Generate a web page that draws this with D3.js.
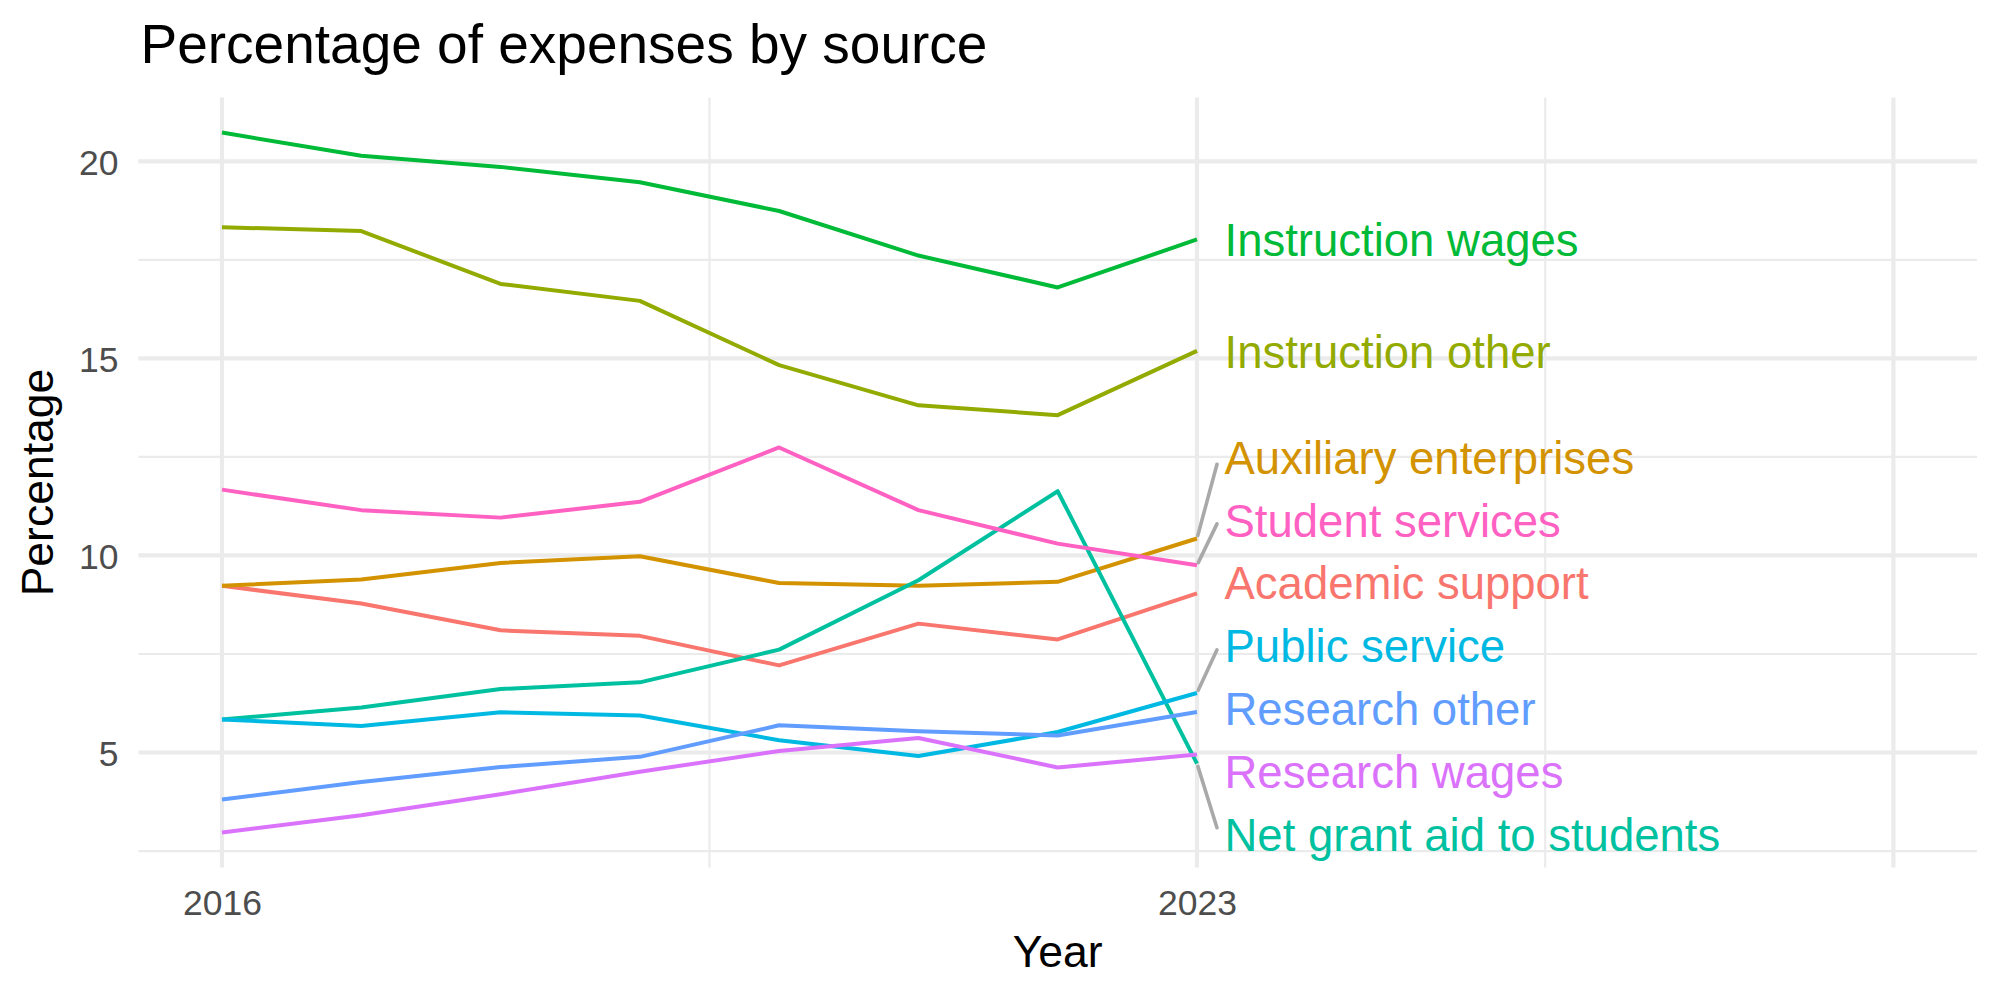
<!DOCTYPE html>
<html><head><meta charset="utf-8">
<script src="https://cdn.jsdelivr.net/npm/d3@7"></script>
<style>
body{margin:0;background:#fff;}
svg{display:block;font-family:"Liberation Sans",Arial,Helvetica,sans-serif;}
</style>
</head><body>
<svg id="chart" width="2000" height="1000"></svg>
<script>
// ---------------- data ----------------
const years = [2016, 2017, 2018, 2019, 2020, 2021, 2022, 2023];
const seriesNames = ["Academic support", "Auxiliary enterprises", "Instruction other", "Instruction wages",
  "Net grant aid to students", "Public service", "Research other", "Research wages", "Student services"];
const academicSupport   = [9.23, 8.78, 8.10, 7.96, 7.21, 8.27, 7.87, 9.04];
const auxiliaryEnterp   = [9.23, 9.39, 9.81, 9.98, 9.30, 9.23, 9.33, 10.43];
const instructionOther  = [18.33, 18.23, 16.89, 16.46, 14.83, 13.81, 13.56, 15.19];
const instructionWages  = [20.73, 20.14, 19.86, 19.47, 18.74, 17.61, 16.80, 18.02];
const netGrantAid       = [5.84, 6.14, 6.61, 6.78, 7.61, 9.37, 11.63, 4.72];
const publicService     = [5.84, 5.67, 6.02, 5.94, 5.31, 4.91, 5.52, 6.51];
const researchOther     = [3.81, 4.25, 4.63, 4.89, 5.69, 5.54, 5.43, 6.03];
const researchWages     = [2.97, 3.41, 3.94, 4.51, 5.04, 5.37, 4.62, 4.95];
const studentServices   = [11.67, 11.15, 10.96, 11.36, 12.74, 11.15, 10.30, 9.75];
const seriesValues = [academicSupport, auxiliaryEnterp, instructionOther, instructionWages,
  netGrantAid, publicService, researchOther, researchWages, studentServices];
const seriesColors = ["#F8766D", "#D39200", "#93AA00", "#00BA38", "#00C19F", "#00B9E3", "#619CFF", "#DB72FB", "#FF61C3"];

const xLimits = [2016, 2028];
const xBreaks = [2016, 2023, 2028];
const xTickLabels = ["2016", "2023", ""];
const xMinorBreaks = [2019.5, 2025.5];
const yBreaks = [5, 10, 15, 20];
const yTickLabels = ["5", "10", "15", "20"];
const yMinorBreaks = [2.5, 7.5, 12.5, 17.5];

const titleText = "Percentage of expenses by source";
const xTitle = "Year";
const yTitle = "Percentage";

// ---------------- layout ----------------
const panel = {left: 138.4, right: 1977, top: 97.6, bottom: 867.5};
const svg = d3.select("#chart");
svg.append("rect").attr("width", 2000).attr("height", 1000).attr("fill", "#fff");

const xSpan = xLimits[1] - xLimits[0];
const x = d3.scaleLinear()
  .domain([xLimits[0] - 0.05 * xSpan, xLimits[1] + 0.05 * xSpan])
  .range([panel.left, panel.right]);
const allVals = seriesValues.flat();
const yMin = d3.min(allVals), yMax = d3.max(allVals), ySpan = yMax - yMin;
const y = d3.scaleLinear()
  .domain([yMin - 0.05 * ySpan, yMax + 0.05 * ySpan])
  .range([panel.bottom, panel.top]);

const grid = svg.append("g");
const gridColor = "#EBEBEB";
// minor
grid.selectAll(".hmin").data(yMinorBreaks).join("line")
  .attr("x1", panel.left).attr("x2", panel.right)
  .attr("y1", d => y(d)).attr("y2", d => y(d))
  .attr("stroke", gridColor).attr("stroke-width", 2.2);
grid.selectAll(".vmin").data(xMinorBreaks).join("line")
  .attr("y1", panel.top).attr("y2", panel.bottom)
  .attr("x1", d => x(d)).attr("x2", d => x(d))
  .attr("stroke", gridColor).attr("stroke-width", 2.2);
// major
grid.selectAll(".hmaj").data(yBreaks).join("line")
  .attr("x1", panel.left).attr("x2", panel.right)
  .attr("y1", d => y(d)).attr("y2", d => y(d))
  .attr("stroke", gridColor).attr("stroke-width", 4.2);
grid.selectAll(".vmaj").data(xBreaks).join("line")
  .attr("y1", panel.top).attr("y2", panel.bottom)
  .attr("x1", d => x(d)).attr("x2", d => x(d))
  .attr("stroke", gridColor).attr("stroke-width", 4.2);

// axes (text only, theme_minimal)
const yAxis = d3.axisLeft(y).tickValues(yBreaks).tickFormat((d, i) => yTickLabels[i]).tickSize(0).tickPadding(0);
const gy = svg.append("g").attr("transform", `translate(${panel.left - 20},0)`).call(yAxis);
gy.select(".domain").remove();
gy.selectAll("text").attr("font-size", 35.5).attr("fill", "#4D4D4D")
  .attr("font-family", '"Liberation Sans",Arial,sans-serif').attr("dy", "0.36em");

const xAxis = d3.axisBottom(x).tickValues(xBreaks).tickFormat((d, i) => xTickLabels[i]).tickSize(0).tickPadding(0);
const gx = svg.append("g").attr("transform", `translate(0,${915})`).call(xAxis);
gx.select(".domain").remove();
gx.selectAll("text").attr("font-size", 35.5).attr("fill", "#4D4D4D")
  .attr("font-family", '"Liberation Sans",Arial,sans-serif').attr("dy", 0);

// lines
const line = d3.line().x((d, i) => x(years[i])).y(d => y(d));
svg.append("g").selectAll("path").data(seriesValues).join("path")
  .attr("d", d => line(d))
  .attr("fill", "none")
  .attr("stroke", (d, i) => seriesColors[i])
  .attr("stroke-width", 4)
  .attr("stroke-linejoin", "round");

// ---------------- repelled end labels ----------------
const lastIdx = years.length - 1;
const gap = 62.9;
const edgePad = 33.3;
let items = seriesNames.map((n, i) => ({name: n, color: seriesColors[i], py: y(seriesValues[i][lastIdx])}));
items.sort((a, b) => a.py - b.py);
let clusters = items.map(it => ({members: [it]}));
function place(c) {
  const mean = d3.mean(c.members, m => m.py);
  const n = c.members.length;
  c.members.forEach((m, k) => m.ly = mean + (k - (n - 1) / 2) * gap);
}
clusters.forEach(place);
let merged = true;
while (merged) {
  merged = false;
  for (let k = 0; k < clusters.length - 1; k++) {
    const a = clusters[k], b = clusters[k + 1];
    const aLast = a.members[a.members.length - 1], bFirst = b.members[0];
    if (bFirst.ly - aLast.ly < gap - 1e-6) {
      a.members = a.members.concat(b.members);
      place(a);
      clusters.splice(k + 1, 1);
      merged = true;
      break;
    }
  }
}
// keep inside panel
clusters.forEach(c => {
  const lo = c.members[c.members.length - 1].ly;
  if (lo > panel.bottom - edgePad) {
    const sh = lo - (panel.bottom - edgePad);
    c.members.forEach(m => m.ly -= sh);
  }
  const hi = c.members[0].ly;
  if (hi < panel.top + edgePad) {
    const sh = panel.top + edgePad - hi;
    c.members.forEach(m => m.ly += sh);
  }
});

const px = x(years[lastIdx]);
const labelX = px + 27.5;
const segG = svg.append("g");
items.forEach(it => {
  if (Math.abs(it.ly - it.py) > 30) {
    const tx = px + 22, ty = it.ly;
    const dx = tx - px, dy = ty - it.py;
    const len = Math.hypot(dx, dy);
    const sx = px + dx / len * 3, sy = it.py + dy / len * 3;
    const f = 20 / dx;
    segG.append("line")
      .attr("x1", sx).attr("y1", sy)
      .attr("x2", px + dx * f).attr("y2", it.py + dy * f)
      .attr("stroke", "#A9A9A9").attr("stroke-width", 3.6).attr("stroke-linecap", "round");
  }
});
svg.append("g").selectAll("text").data(items).join("text")
  .attr("x", labelX).attr("y", d => d.ly).attr("dy", "0.37em")
  .attr("font-size", 45.5).attr("fill", d => d.color)
  .text(d => d.name);

// titles
svg.append("text").attr("x", 140.5).attr("y", 63.3).attr("font-size", 55).attr("fill", "#000").text(titleText);
svg.append("text").attr("x", (panel.left + panel.right) / 2).attr("y", 966.7)
  .attr("text-anchor", "middle").attr("font-size", 44.5).attr("fill", "#000").text(xTitle);
svg.append("text").attr("transform", `translate(53.3,${(panel.top + panel.bottom) / 2}) rotate(-90)`)
  .attr("text-anchor", "middle").attr("font-size", 44.5).attr("fill", "#000").text(yTitle);
</script>
</body></html>
